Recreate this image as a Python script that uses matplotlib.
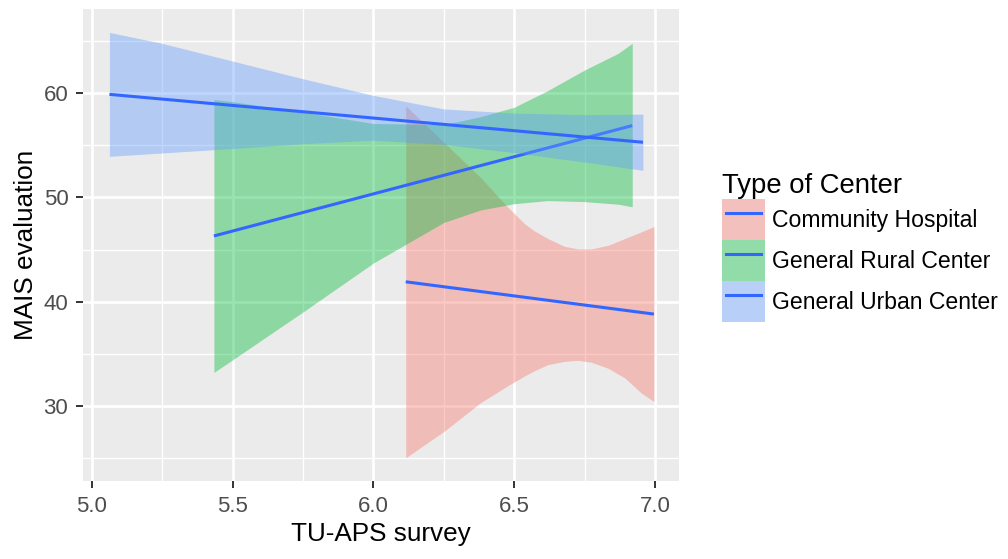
import numpy as np
import matplotlib
matplotlib.use("Agg")
import matplotlib.pyplot as plt
from matplotlib.patches import Patch
from matplotlib.lines import Line2D
from matplotlib.legend_handler import HandlerLine2D
from matplotlib.colors import to_rgb

plt.rcParams['font.family'] = ['Liberation Sans', 'DejaVu Sans']

# data
centers = ['Community Hospital', 'General Rural Center', 'General Urban Center']
fills = ['#F8766D', '#00BA38', '#619CFF']

# Community Hospital
hosp_x = [6.115, 6.254, 6.381, 6.476, 6.536, 6.571, 6.619, 6.679, 6.726,
          6.774, 6.833, 6.893, 6.952, 6.996]
hosp_hi = [58.8, 55.2, 51.9, 49.1, 47.5, 46.8, 46.06, 45.3, 45.06,
           45.06, 45.4, 46.06, 46.7, 47.2]
hosp_lo = [25.0, 27.6, 30.3, 31.9, 32.85, 33.35, 33.94, 34.26, 34.36,
           34.17, 33.6, 32.66, 31.2, 30.4]
hosp_line_x = [6.115, 6.996]
hosp_line_y = [41.9, 38.8]

# General Rural Center
rural_x = [5.434, 5.5, 5.75, 6.0, 6.25, 6.381, 6.5, 6.619, 6.75, 6.869, 6.919]
rural_hi = [59.4, 59.2, 58.2, 57.1, 57.0, 57.76, 58.66, 60.26, 62.24, 63.84, 64.8]
rural_lo = [33.2, 34.4, 39.0, 43.7, 47.6, 48.8, 49.4, 49.7, 49.6, 49.35, 49.1]
rural_line_x = [5.434, 6.919]
rural_line_y = [46.3, 56.9]

# General Urban Center
urban_x = [5.063, 5.25, 5.5, 5.75, 6.0, 6.25, 6.5, 6.75, 6.957]
urban_hi = [65.85, 64.8, 63.1, 61.4, 59.8, 58.5, 58.1, 57.95, 58.0]
urban_lo = [53.95, 54.27, 54.7, 55.16, 55.5, 55.1, 54.3, 53.4, 52.6]
urban_line_x = [5.063, 6.957]
urban_line_y = [59.9, 55.3]

x_major = [5.0, 5.5, 6.0, 6.5, 7.0]
x_minor = [5.25, 5.75, 6.25, 6.75]
y_major = [30, 40, 50, 60]
y_minor = [25, 35, 45, 55, 65]

line_col = '#3366FF'

fig = plt.figure(figsize=(10.08, 5.59), dpi=100)
ax = fig.add_axes([0.0820, 0.1401, 0.5916, 0.8433])
ax.set_facecolor('#EBEBEB')
for s in ax.spines.values():
    s.set_visible(False)

groups = [
    (hosp_x, hosp_lo, hosp_hi, hosp_line_x, hosp_line_y),
    (rural_x, rural_lo, rural_hi, rural_line_x, rural_line_y),
    (urban_x, urban_lo, urban_hi, urban_line_x, urban_line_y),
]
z = 3
for (gx, lo, hi, lx, ly), col in zip(groups, fills):
    ax.fill_between(gx, lo, hi, color=col, alpha=0.4, lw=0, zorder=z)
    ax.plot(lx, ly, color=line_col, lw=2.2, solid_capstyle='butt', zorder=z + 1)
    z += 2

ax.set_xlim(4.968, 7.085)
ax.set_ylim(22.8, 68.07)
ax.set_xticks(x_major)
ax.set_xticks(x_minor, minor=True)
ax.set_yticks(y_major)
ax.set_yticks(y_minor, minor=True)
ax.set_xticklabels(['5.0', '5.5', '6.0', '6.5', '7.0'])
ax.grid(which='major', color='white', lw=1.9, zorder=1)
ax.grid(which='minor', color='white', lw=1.0, zorder=1)
ax.set_axisbelow(True)
ax.tick_params(which='major', length=4.8, width=1.4, color='#333333',
               labelsize=16, labelcolor='#4D4D4D')
ax.tick_params(axis='x', pad=6)
ax.tick_params(axis='y', pad=5.5)
ax.tick_params(which='minor', length=0)

ax.set_xlabel('TU-APS survey', fontsize=18.8, labelpad=3.5)
ax.set_ylabel('MAIS evaluation', fontsize=18.8, labelpad=4)

# legend keys: fill at alpha 0.4 over the grey95 key background
key_bg = np.array(to_rgb('#F2F2F2'))
handles = []
for col in fills:
    kc = 0.4 * np.array(to_rgb(col)) + 0.6 * key_bg
    handles.append((Patch(facecolor=kc, lw=0),
                    Line2D([], [], color=line_col, lw=2.2)))
leg = fig.legend(handles, centers, loc='upper left',
                 bbox_to_anchor=(721.7 / 1008, 1 - 173 / 559),
                 bbox_transform=fig.transFigure,
                 frameon=False, fontsize=16.6, title='Type of Center',
                 title_fontsize=19.8, alignment='left',
                 handlelength=1.878, handleheight=2.358, labelspacing=0,
                 handletextpad=0.29, borderpad=0, borderaxespad=0,
                 handler_map={Line2D: HandlerLine2D(marker_pad=0.19, numpoints=2)})

fig.savefig('out.png', dpi=100)
